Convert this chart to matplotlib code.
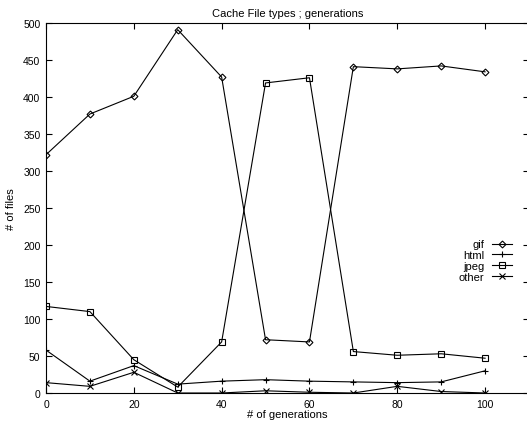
import matplotlib
matplotlib.use("Agg")
import matplotlib.pyplot as plt

plt.rcParams["font.family"] = ["Liberation Sans", "DejaVu Sans"]

generations = [0, 10, 20, 30, 40, 50, 60, 70, 80, 90, 100]
gif = [322, 377, 401, 491, 427, 72, 69, 441, 438, 442, 434]
html = [58, 16, 37, 12, 16, 18, 16, 15, 14, 15, 30]
jpeg = [117, 110, 45, 8, 69, 419, 426, 56, 51, 53, 47]
other = [14, 9, 28, 0, 0, 3, 1, 0, 9, 2, 0]

xticks = [0, 20, 40, 60, 80, 100]
yticks = [0, 50, 100, 150, 200, 250, 300, 350, 400, 450, 500]

fig = plt.figure(figsize=(5.27, 4.27), dpi=100)
ax = fig.add_axes([46 / 527, 33 / 427, 483 / 527, 370 / 427])

style = dict(color="black", lw=0.8, mfc="none", mec="black", mew=0.8)
ax.plot(generations, gif, marker="D", ms=3.5, label="gif", **style)
ax.plot(generations, html, marker="+", ms=5, label="html", **style)
ax.plot(generations, jpeg, marker="s", ms=4.5, label="jpeg", **style)
ax.plot(generations, other, marker="x", ms=4, label="other", **style)

ax.set_xlim(0, 110)
ax.set_ylim(0, 500)
ax.set_xticks(xticks)
ax.set_yticks(yticks)
ax.tick_params(direction="in", length=4, width=0.8, labelsize=7.5,
               top=True, right=True, pad=4)
for side in ax.spines.values():
    side.set_linewidth(0.8)

ax.set_title("Cache File types ; generations", fontsize=8, pad=5)
ax.set_xlabel("# of generations", fontsize=8, labelpad=0)
ax.set_ylabel("# of files", fontsize=8, labelpad=5)

# legend sits inside the plot on the right, text right-aligned left of the key
leg = ax.legend(loc="upper right", bbox_to_anchor=(0.965, 0.415), frameon=False,
                fontsize=8, markerfirst=False, handlelength=1.8,
                handletextpad=0.7, labelspacing=0.08, borderaxespad=0,
                borderpad=0)
for t in leg.get_texts():
    t.set_ha("right")

fig.savefig("out.png", dpi=100)
